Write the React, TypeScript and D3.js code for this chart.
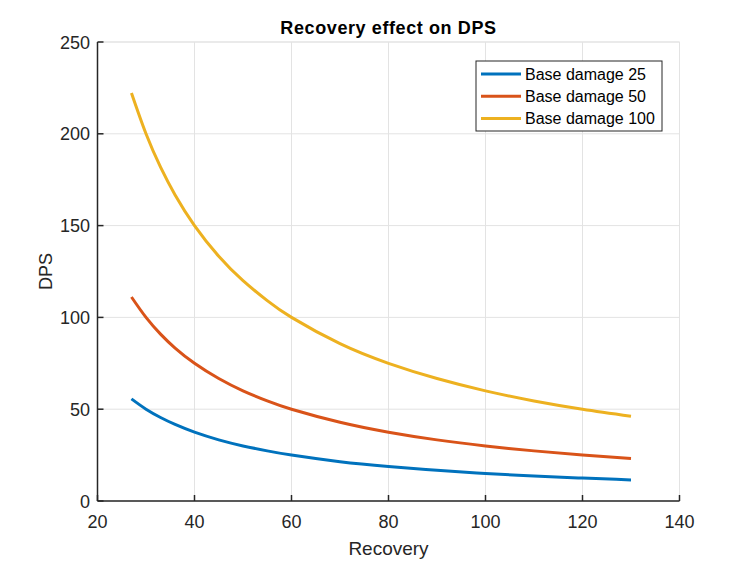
import { scaleLinear, line as d3_line, curveNatural } from "d3";

// recovery values (x) and DPS for each base damage
const recovery = [27, 30, 33, 36, 40, 45, 50, 55, 60, 70, 80, 90, 100, 110, 120, 130];
const dps25 = [55.6, 50, 45.5, 41.7, 37.5, 33.3, 30, 27.3, 25, 21.4, 18.8, 16.7, 15, 13.6, 12.5, 11.5];
const dps50 = [111.1, 100, 90.9, 83.3, 75, 66.7, 60, 54.5, 50, 42.9, 37.5, 33.3, 30, 27.3, 25, 23.1];
const dps100 = [222.2, 200, 181.8, 166.7, 150, 133.3, 120, 109.1, 100, 85.7, 75, 66.7, 60, 54.5, 50, 46.2];

const seriesNames = ["Base damage 25", "Base damage 50", "Base damage 100"];
const seriesColors = ["#0072BD", "#D95319", "#EDB120"];
const xTicks = [20, 40, 60, 80, 100, 120, 140];
const yTicks = [0, 50, 100, 150, 200, 250];

const W = 750;
const H = 562;
const m = { left: 97.5, right: 679.5, top: 42, bottom: 501 };
const font = "Arial, 'Liberation Sans', Helvetica, sans-serif";
const axisColor = "#262626";

export default function App() {
  const x = scaleLinear().domain([20, 140]).range([m.left, m.right]);
  const y = scaleLinear().domain([0, 250]).range([m.bottom, m.top]);

  const series = [dps25, dps50, dps100];
  const line = d3_line<number>()
    .x((_, i) => x(recovery[i]))
    .y((d) => y(d))
    .curve(curveNatural);

  return (
    <svg
      width={W}
      height={H}
      style={{ position: "absolute", left: 0, top: 0, background: "#fff" }}
      fontFamily={font}
    >
      {/* Grid */}
      {xTicks.map((t) => (
        <line key={"gx" + t} x1={x(t)} x2={x(t)} y1={m.top} y2={m.bottom} stroke="#e3e3e3" strokeWidth={1} />
      ))}
      {yTicks.map((t) => (
        <line key={"gy" + t} x1={m.left} x2={m.right} y1={y(t)} y2={y(t)} stroke="#e3e3e3" strokeWidth={1} />
      ))}

      {/* Box: dark left/bottom axes, light top/right */}
      <line x1={m.left} x2={m.right} y1={m.top} y2={m.top} stroke="#e3e3e3" />
      <line x1={m.right} x2={m.right} y1={m.top} y2={m.bottom} stroke="#e3e3e3" />

      {/* Curves */}
      {series.map((s, i) => (
        <path
          key={i}
          d={line(s) ?? ""}
          fill="none"
          stroke={seriesColors[i]}
          strokeWidth={3}
          strokeLinejoin="round"
        />
      ))}

      {/* Axes */}
      <line x1={m.left} x2={m.right} y1={m.bottom} y2={m.bottom} stroke={axisColor} strokeWidth={1.5} />
      <line x1={m.left} x2={m.left} y1={m.top} y2={m.bottom} stroke={axisColor} strokeWidth={1.5} />
      {xTicks.map((t) => (
        <g key={"tx" + t}>
          <line x1={x(t)} x2={x(t)} y1={m.bottom} y2={m.bottom - 6} stroke={axisColor} strokeWidth={1.5} />
          <text x={x(t)} y={528} textAnchor="middle" fontSize={18} fill={axisColor}>
            {t}
          </text>
        </g>
      ))}
      {yTicks.map((t) => (
        <g key={"ty" + t}>
          <line x1={m.left} x2={m.left + 6} y1={y(t)} y2={y(t)} stroke={axisColor} strokeWidth={1.5} />
          <text x={90} y={y(t) + 6.5} textAnchor="end" fontSize={18} fill={axisColor}>
            {t}
          </text>
        </g>
      ))}

      {/* Labels */}
      <text
        x={(m.left + m.right) / 2}
        y={34}
        textAnchor="middle"
        fontSize={18}
        fontWeight="bold"
        letterSpacing={0.6}
        fill="#000"
      >
        Recovery effect on DPS
      </text>
      <text x={(m.left + m.right) / 2} y={555} textAnchor="middle" fontSize={19} fill={axisColor}>
        Recovery
      </text>
      <text
        transform={`translate(51.5, ${(m.top + m.bottom) / 2}) rotate(-90)`}
        textAnchor="middle"
        fontSize={18}
        fill={axisColor}
      >
        DPS
      </text>

      {/* Legend */}
      <g>
        <rect x={476} y={61} width={186} height={70} fill="#fff" stroke="#262626" strokeWidth={1} />
        {seriesNames.map((name, i) => (
          <g key={name} transform={`translate(0, ${74 + i * 22.3})`}>
            <line x1={481} x2={521} y1={0} y2={0} stroke={seriesColors[i]} strokeWidth={3} />
            <text x={525} y={5.5} fontSize={16} fill="#000">
              {name}
            </text>
          </g>
        ))}
      </g>
    </svg>
  );
}
